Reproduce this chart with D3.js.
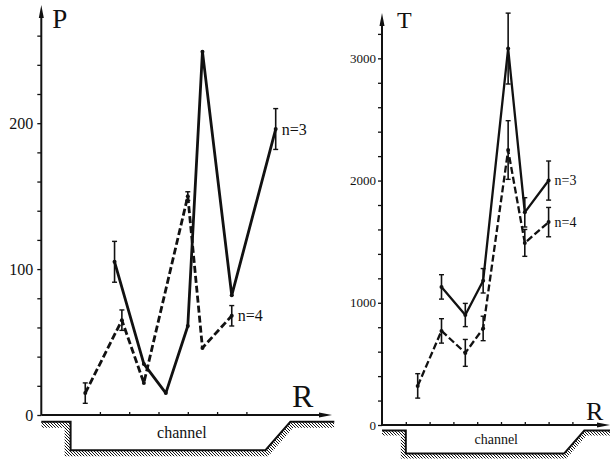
<!DOCTYPE html>
<html>
<head>
<meta charset="utf-8">
<script src="https://cdn.jsdelivr.net/npm/d3@7"></script>
<style>
  html, body { margin: 0; padding: 0; background: #fff; }
  svg { display: block; }
  svg text { font-family: "Liberation Serif", "Times New Roman", "DejaVu Serif", serif; }
</style>
</head>
<body>
<svg id="chart" width="610" height="460"></svg>
<script>
// left panel: P against R
const leftSolidR = [2.5, 3.5, 4.25, 5, 5.5, 6.5, 8];
const leftSolidP = [105, 35, 15, 61, 249, 82, 196];
const leftSolidErr = [14, 0, 0, 0, 0, 0, 14];
const leftDashR = [1.5, 2.75, 3.5, 5, 5.5, 6.5];
const leftDashP = [15, 65, 22, 150, 46, 68];
const leftDashErr = [7, 7, 0, 3, 0, 7];
const leftYTicks = d3.range(0, 261, 20);
const leftYLabels = [0, 100, 200];
const leftXTicks = [2, 3, 4, 5, 6, 7];

// right panel: T against R
const rightSolidR = [2.5, 3.5, 4.25, 5.3, 6, 7];
const rightSolidT = [1130, 900, 1180, 3080, 1740, 2000];
const rightSolidErr = [100, 95, 100, 290, 120, 160];
const rightDashR = [1.5, 2.5, 3.5, 4.25, 5.3, 6, 7];
const rightDashT = [320, 770, 590, 790, 2250, 1490, 1660];
const rightDashErr = [100, 100, 110, 100, 240, 110, 120];
const rightYTicks = d3.range(0, 3201, 200);
const rightYLabels = [0, 1000, 2000, 3000];
const rightXTicks = [1, 2, 3, 4, 5, 6, 7, 8];

// channel cross-section, in R units: [R, depth below axis]
const channelR = [0, 1, 1, 7.65, 8.5, 10];
const channelDepth = [0.23, 0.23, 1.2, 1.2, 0.23, 0.23];

const serif = "Liberation Serif";
const svg = d3.select("#chart");
const defs = svg.append("defs");

defs.append("pattern")
  .attr("id", "hatch")
  .attr("patternUnits", "userSpaceOnUse")
  .attr("width", 3)
  .attr("height", 3)
  .append("path")
  .attr("d", "M-1,-1L4,4M-1,2L1,4M2,-1L4,1")
  .attr("stroke", "#111")
  .attr("stroke-width", 1);

function drawPanel(o) {
  const g = svg.append("g");
  const x = d3.scaleLinear().domain([0, 10]).range([o.x0, o.x0 + 10 * o.unit]);
  const y = d3.scaleLinear().domain([0, o.yMax]).range([o.y0, o.yTop]);

  // channel profile with hatched ground
  const prof = channelR.map((r, i) => [x(r), o.y0 + channelDepth[i] * o.unit]);
  const line = d3.line();
  const earth = prof.concat([[x(10), 470], [x(0), 470]]);
  defs.append("clipPath").attr("id", "earth" + o.id)
    .append("path").attr("d", line(earth) + "Z");
  g.append("path")
    .attr("d", line(prof))
    .attr("fill", "none")
    .attr("stroke", "url(#hatch)")
    .attr("stroke-width", o.hatch * 2)
    .attr("clip-path", `url(#earth${o.id})`);
  g.append("path")
    .attr("d", line(prof))
    .attr("fill", "none")
    .attr("stroke", "#111")
    .attr("stroke-width", 2);
  g.append("text")
    .attr("x", x(4.8))
    .attr("y", o.y0 + 0.8 * o.unit)
    .attr("text-anchor", "middle")
    .attr("font-family", serif)
    .attr("font-size", o.chanFont)
    .attr("fill", "#111")
    .text("channel");

  // axes
  const yAx = g.append("g")
    .attr("transform", `translate(${o.x0},0)`)
    .call(d3.axisLeft(y).tickValues(o.yTicks).tickSize(4)
      .tickFormat(d => o.yLabels.includes(d) ? d : ""));
  yAx.attr("font-family", serif);
  yAx.select(".domain").remove();
  yAx.selectAll("line").attr("stroke", "#111").attr("stroke-width", 1.3);
  yAx.selectAll("text")
    .attr("font-family", serif)
    .attr("font-size", o.tickFont)
    .attr("fill", "#111")
    .attr("x", -o.labelGap);

  const xAx = g.append("g")
    .attr("transform", `translate(0,${o.y0})`)
    .call(d3.axisTop(x).tickValues(o.xTicks).tickSize(3).tickFormat(""));
  xAx.select(".domain").remove();
  xAx.selectAll("line").attr("stroke", "#111").attr("stroke-width", 1.3);

  g.append("line")
    .attr("x1", o.x0).attr("y1", o.y0)
    .attr("x2", o.x0).attr("y2", o.yTop + 8)
    .attr("stroke", "#111").attr("stroke-width", 2);
  g.append("path")
    .attr("d", `M${o.x0},${o.yTop}L${o.x0 - 2.5},${o.yTop + 13}L${o.x0 + 2.5},${o.yTop + 13}Z`)
    .attr("fill", "#111");
  g.append("line")
    .attr("x1", o.x0).attr("y1", o.y0)
    .attr("x2", o.xEnd - 8).attr("y2", o.y0)
    .attr("stroke", "#111").attr("stroke-width", 2);
  g.append("path")
    .attr("d", `M${o.xEnd},${o.y0}L${o.xEnd - 13},${o.y0 - 2.5}L${o.xEnd - 13},${o.y0 + 2.5}Z`)
    .attr("fill", "#111");

  g.append("text")
    .attr("x", o.x0 + o.yLabelDx)
    .attr("y", o.yTop + o.yLabelDy)
    .attr("font-family", serif)
    .attr("font-size", o.yLabelFont)
    .attr("fill", "#111")
    .text(o.yLabel);
  g.append("text")
    .attr("x", o.rLabelX)
    .attr("y", o.rLabelY)
    .attr("font-family", serif)
    .attr("font-size", o.rLabelFont)
    .attr("fill", "#111")
    .text("R");

  // series
  o.series.forEach(s => {
    const pts = s.r.map((r, i) => ({ r, v: s.v[i], e: s.e[i] }));
    g.append("path")
      .datum(pts)
      .attr("d", d3.line().x(d => x(d.r)).y(d => y(d.v)))
      .attr("fill", "none")
      .attr("stroke", "#111")
      .attr("stroke-width", o.lineW)
      .attr("stroke-linejoin", "round")
      .attr("stroke-dasharray", s.dash ? "7,3" : null);

    const eb = g.append("g").selectAll("g")
      .data(pts.filter(d => d.e > 0))
      .join("g");
    eb.append("line")
      .attr("x1", d => x(d.r)).attr("x2", d => x(d.r))
      .attr("y1", d => y(d.v - d.e)).attr("y2", d => y(d.v + d.e))
      .attr("stroke", "#111").attr("stroke-width", 1.6);
    [-1, 1].forEach(sgn => {
      eb.append("line")
        .attr("x1", d => x(d.r) - 2.5).attr("x2", d => x(d.r) + 2.5)
        .attr("y1", d => y(d.v + sgn * d.e)).attr("y2", d => y(d.v + sgn * d.e))
        .attr("stroke", "#111").attr("stroke-width", 1.4);
    });

    g.append("g").selectAll("circle")
      .data(pts)
      .join("circle")
      .attr("cx", d => x(d.r)).attr("cy", d => y(d.v))
      .attr("r", 2)
      .attr("fill", "#111");

    const last = pts[pts.length - 1];
    g.append("text")
      .attr("x", x(last.r) + 6)
      .attr("y", y(last.v))
      .attr("dy", "0.35em")
      .attr("font-family", serif)
      .attr("font-size", o.nFont)
      .attr("fill", "#111")
      .text(s.label);
  });
}

drawPanel({
  id: "L", x0: 41.3, unit: 29.3, y0: 415, yTop: 5, yMax: 281, xEnd: 332,
  yTicks: leftYTicks, yLabels: leftYLabels, xTicks: leftXTicks,
  tickFont: 16, labelGap: 8, chanFont: 16, nFont: 16, lineW: 2.8, hatch: 6,
  yLabel: "P", yLabelDx: 11, yLabelDy: 23, yLabelFont: 27,
  rLabelX: 292, rLabelY: 407, rLabelFont: 32,
  series: [
    { r: leftSolidR, v: leftSolidP, e: leftSolidErr, dash: false, label: "n=3" },
    { r: leftDashR, v: leftDashP, e: leftDashErr, dash: true, label: "n=4" }
  ]
});

drawPanel({
  id: "R", x0: 382, unit: 23.8, y0: 425, yTop: 13, yMax: 3371, xEnd: 610,
  yTicks: rightYTicks, yLabels: rightYLabels, xTicks: rightXTicks,
  tickFont: 13, labelGap: 6, chanFont: 14, nFont: 14, lineW: 2.3, hatch: 5,
  yLabel: "T", yLabelDx: 15, yLabelDy: 15, yLabelFont: 24,
  rLabelX: 586, rLabelY: 420, rLabelFont: 26,
  series: [
    { r: rightSolidR, v: rightSolidT, e: rightSolidErr, dash: false, label: "n=3" },
    { r: rightDashR, v: rightDashT, e: rightDashErr, dash: true, label: "n=4" }
  ]
});
</script>
</body>
</html>
